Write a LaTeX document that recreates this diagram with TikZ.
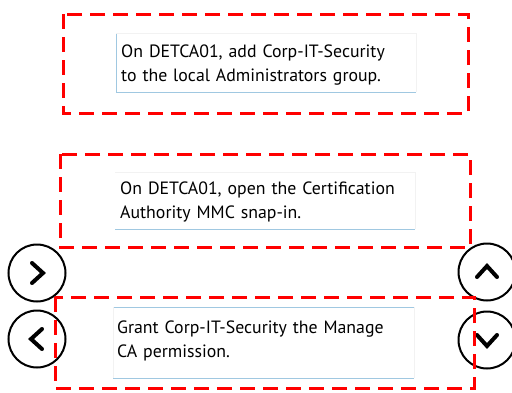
\documentclass[tikz,border=0pt]{standalone}
\usepackage{fontspec}
\setmainfont{PT Sans}
\definecolor{lineblue}{RGB}{160,200,225}
\begin{document}
\begin{tikzpicture}
		[	x=1pt,y=-1pt,
		frame/.style={draw=red,line width=3pt,dash pattern=on 15pt off 8pt},
		textbox/.style={rectangle,draw=none,fill=none,text width=300pt,align=left,font=\fontsize{17.8}{24.5}\selectfont,inner sep=0pt,anchor=base west},
		navbtn/.style={circle,draw=black,line width=2pt,minimum size=57pt,inner sep=0pt,fill=white},
		chev/.style={line width=4pt,line cap=round,line join=miter}
		]
		\useasboundingbox (0,0) rectangle (512,392);
		% dashed frames
		\draw[frame] (63,14) rectangle (468,113);
		\draw[frame] (60,154) rectangle (470,247);
		% text boxes
		\draw[lineblue,line width=1pt] (116,33) -- (116,92) -- (416,92);
		\draw[black!5,line width=.6pt] (116,33) -- (416,33) -- (416,92);
		\node[textbox] (stepa) at (121,57){On DETCA01, add Corp-IT-Security\\to the local Administrators group.};
		\draw[black!5,line width=.6pt] (115,172) -- (415,172) -- (415,229);
		\draw[lineblue,line width=1pt] (115,229) -- (415,229);
		\node[textbox] (stepb) at (120,194){On DETCA01, open the Certification\\Authority MMC snap-in.};
		\draw[lineblue,line width=1pt] (113,307) -- (414,307);
		\draw[black!5,line width=.6pt] (113,307) -- (113,378) (414,307) -- (414,378);
		\draw[lineblue,line width=1pt] (113,378) -- (414,378);
		\node[textbox] (stepc) at (117,333){Grant Corp-IT-Security the Manage\\CA permission.};
		% buttons
		\node[navbtn] (right) at (37,273){};
		\node[navbtn] (left) at (37,339){};
		\node[navbtn] (up) at (487,272){};
		\node[navbtn] (down) at (487,340){};
		\draw[chev] ([xshift=-5pt,yshift=10pt]right.center) -- ([xshift=6pt]right.center) -- ([xshift=-5pt,yshift=-10pt]right.center);
		\draw[chev] ([xshift=5pt,yshift=10pt]left.center) -- ([xshift=-6pt]left.center) -- ([xshift=5pt,yshift=-10pt]left.center);
		\draw[chev] ([xshift=-10pt,yshift=-5pt]up.center) -- ([yshift=6pt]up.center) -- ([xshift=10pt,yshift=-5pt]up.center);
		\draw[chev] ([xshift=-10pt,yshift=5pt]down.center) -- ([yshift=-6pt]down.center) -- ([xshift=10pt,yshift=5pt]down.center);
		% last frame over the buttons
		\draw[frame] (55,297) rectangle (474,388);
	\end{tikzpicture}
\end{document}
